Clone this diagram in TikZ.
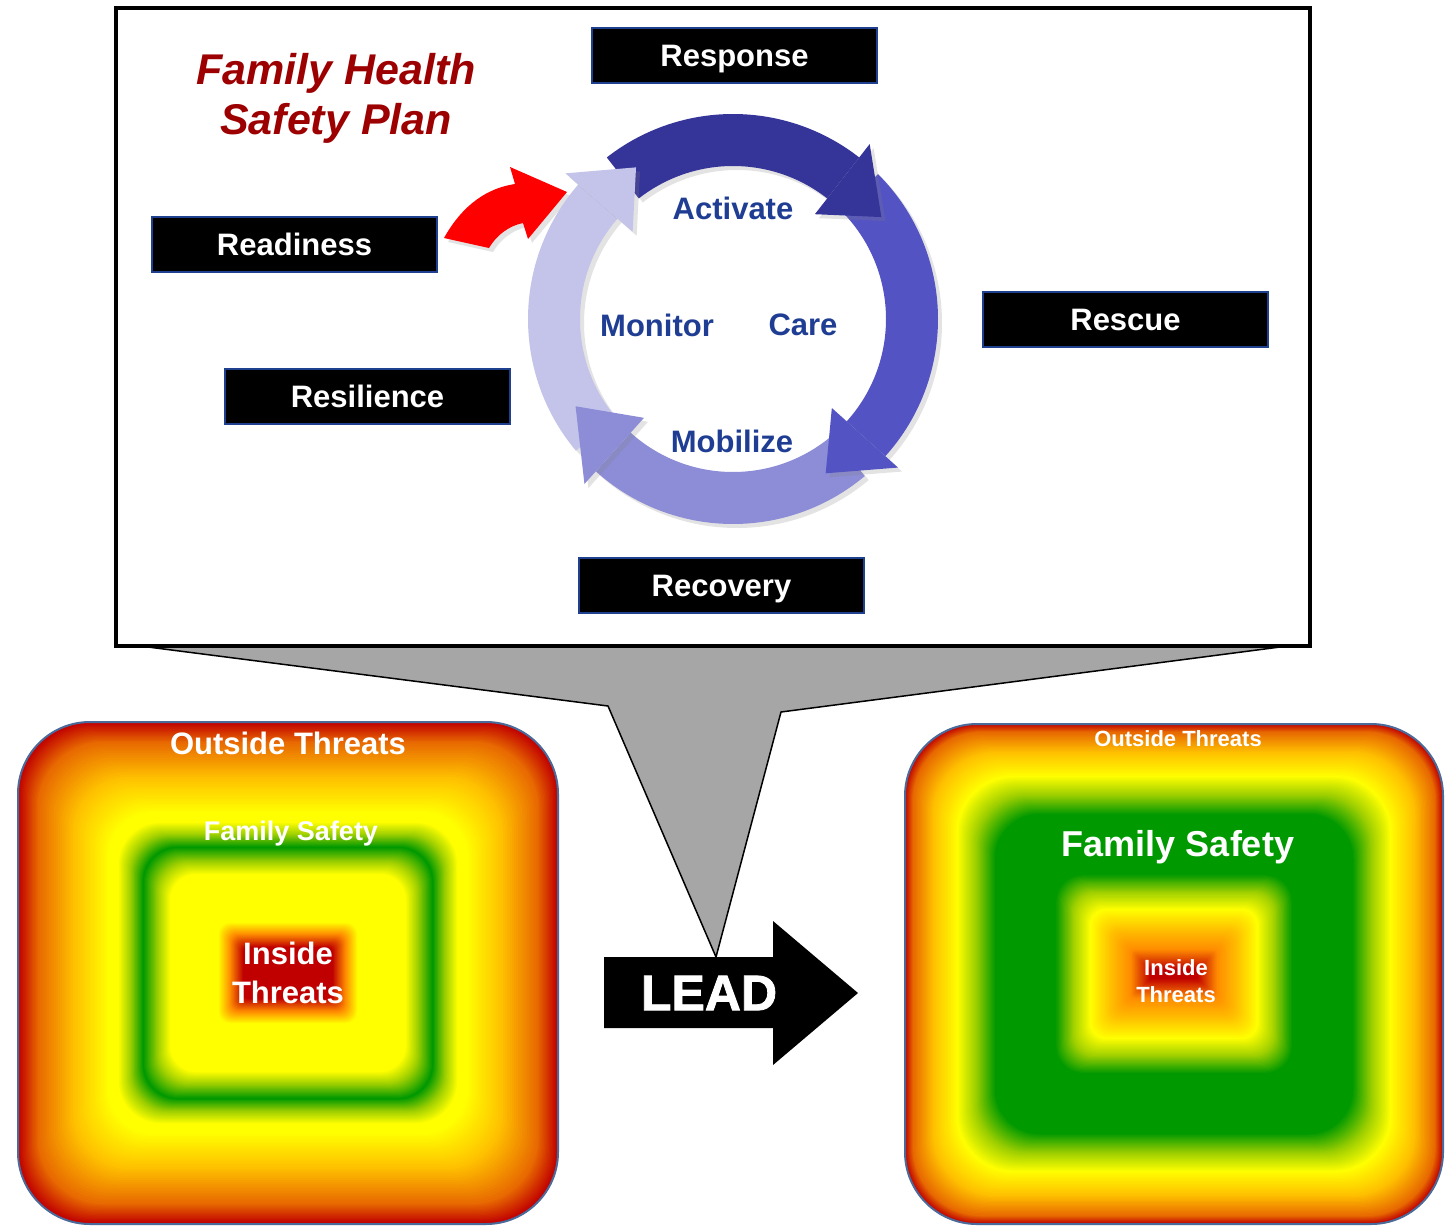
\documentclass[tikz,border=0pt]{standalone}
\usepackage{fontspec}
\setmainfont{Liberation Sans}
\usetikzlibrary{shadows}

\definecolor{lblblue}{HTML}{1F3F8F}
\definecolor{cyctext}{HTML}{1F3E93}
\definecolor{ttlred}{HTML}{9C0000}
\definecolor{tailgray}{HTML}{A6A6A6}
\definecolor{boxedge}{HTML}{4A6A9A}
\definecolor{cycA}{HTML}{353599}
\definecolor{cycB}{HTML}{5353C4}
\definecolor{cycC}{HTML}{8C8CD7}
\definecolor{cycD}{HTML}{C4C4EA}
\definecolor{cR}{HTML}{C00000}
\definecolor{cO}{HTML}{E86A00}
\definecolor{cG}{HTML}{FFC000}
\definecolor{cY}{HTML}{FFFF00}
\definecolor{cL}{HTML}{A0D000}
\definecolor{cN}{HTML}{009900}
\definecolor{cOr}{HTML}{FF8C00}

% centre x, centre y, half width, half height, stops (inset/colour/inset/colour)
\newcommand{\ringbox}[5]{%
  \foreach \da/\ca/\db/\cb in {#5}{%
    \foreach \k in {0,...,16}{%
      \pgfmathsetmacro{\dd}{\da+(\db-\da)*\k/16}%
      \pgfmathsetmacro{\pc}{100*\k/16}%
      \pgfmathsetmacro{\rr}{max(1,min(72-0.3*\dd,#4-\dd-1))}%
      \colorlet{ringc}{\cb!\pc!\ca}%
      \fill[ringc, rounded corners=\rr pt] (#1-#3+\dd,#2-#4+\dd) rectangle (#1+#3-\dd,#2+#4-\dd);
    }%
  }%
}

\begin{document}
\begin{tikzpicture}[x=1pt, y=-1pt,
	lbl/.style={fill=black, draw=lblblue, line width=1.5pt, minimum width=285pt, minimum height=55pt, inner sep=0pt, text height=22.2pt, text depth=0pt, text=white, font=\fontsize{31}{36}\selectfont\bfseries},
	cyc/.style={text=cyctext, font=\fontsize{31}{36}\selectfont\bfseries, inner sep=1pt},
	gtxt/.style={text=white, align=center, inner sep=1pt},
	sdw/.style={drop shadow={opacity=.22, shadow xshift=4pt, shadow yshift=-4pt}}]
	\useasboundingbox (0,0) rectangle (1445,1226);
	\draw[fill=tailgray, line width=1.5pt, line join=miter] (148,647) -- (608,706) -- (716,957) -- (781,712) -- (1280,647);
	\draw[line width=4pt, fill=white] (116,8) rectangle (1310,646);
	\node[text=ttlred, align=center, font=\fontsize{43}{50}\selectfont\bfseries\itshape] (title) at (336,98) {Family Health\\Safety Plan};
	\node[lbl] (response) at (734.5,55.5) {Response};
	\node[lbl] (readiness) at (294.5,244.5) {Readiness};
	\node[lbl] (rescue) at (1125.5,319.5) {Rescue};
	\node[lbl] (resilience) at (367.5,396.5) {Resilience};
	\node[lbl] (recovery) at (721.5,585.5) {Recovery};
	\fill[red, sdw] (444,238) .. controls (463,204) and (488,188) .. (515,184) -- (510,167) -- (567,192) -- (528,239) -- (523,223) .. controls (508,226) and (496,236) .. (489,248) -- cycle;
	\begin{scope}[shift={(733,319)}, y=1pt]
		\foreach \angS/\angB/\angT/\arcol in {128/52/34.5/cycA, 45/-42/-59/cycB, -50/-132/-151/cycC, -140/-221/-237.4/cycD}
			\fill[\arcol, sdw] (\angS:205) arc[start angle=\angS, end angle=\angB, radius=205] -- (\angB:153) arc[start angle=\angB, end angle=\angS, radius=153] -- cycle;
		\foreach \angS/\angB/\angT/\arcol in {128/52/34.5/cycA, 45/-42/-59/cycB, -50/-132/-151/cycC, -140/-221/-237.4/cycD}
			\fill[\arcol, sdw] (\angB:133) -- (\angB:222) -- (\angT:180) -- cycle;
	\end{scope}
	\node[cyc] (activate) at (733,208) {Activate};
	\node[cyc] (monitor) at (657,325) {Monitor};
	\node[cyc] (care) at (803,325) {Care};
	\node[cyc] (mobilize) at (732,441) {Mobilize};
	\ringbox{288}{973}{270}{251}{0/cR/20/cO, 20/cO/55/cG, 55/cG/90/cY, 90/cY/100/cY, 100/cY/112/cL, 112/cL/125/cN, 125/cN/140/cL, 140/cL/152/cY, 152/cY/200/cY, 200/cY/212/cOr, 212/cOr/225/cR}
	\draw[boxedge, line width=2pt, rounded corners=72pt] (18,722) rectangle (558,1224);
	\node[gtxt, font=\fontsize{31}{36}\selectfont\bfseries] (outL) at (288,743) {Outside Threats};
	\node[gtxt, font=\fontsize{27}{32}\selectfont\bfseries] (famL) at (291,834) {Family Safety};
	\node[gtxt, font=\fontsize{31}{39}\selectfont\bfseries] (inL) at (288,973) {Inside\\Threats};
	\ringbox{1174}{974}{269}{250}{0/cR/8/cO, 8/cO/28/cG, 28/cG/52/cY, 52/cY/70/cL, 70/cL/90/cN, 90/cN/150/cN, 150/cN/168/cL, 168/cL/185/cY, 185/cY/205/cG, 205/cG/225/cOr, 225/cOr/245/cR}
	\draw[boxedge, line width=2pt, rounded corners=72pt] (905,724) rectangle (1443,1224);
	\node[gtxt, font=\fontsize{22}{26}\selectfont\bfseries] (outR) at (1178,739) {Outside Threats};
	\node[gtxt, font=\fontsize{36}{42}\selectfont\bfseries] (famR) at (1178,847) {Family Safety};
	\node[gtxt, font=\fontsize{22}{27}\selectfont\bfseries] (inR) at (1176,981) {Inside\\Threats};
	\fill (604,957) -- (773,957) -- (773,921) -- (858,993) -- (773,1065) -- (773,1028) -- (604,1028) -- cycle;
	\node[text=white, font=\fontsize{50}{56}\selectfont\bfseries\addfontfeature{FakeBold=1.6}] (lead) at (709,993) {LEAD};
\end{tikzpicture}
\end{document}
